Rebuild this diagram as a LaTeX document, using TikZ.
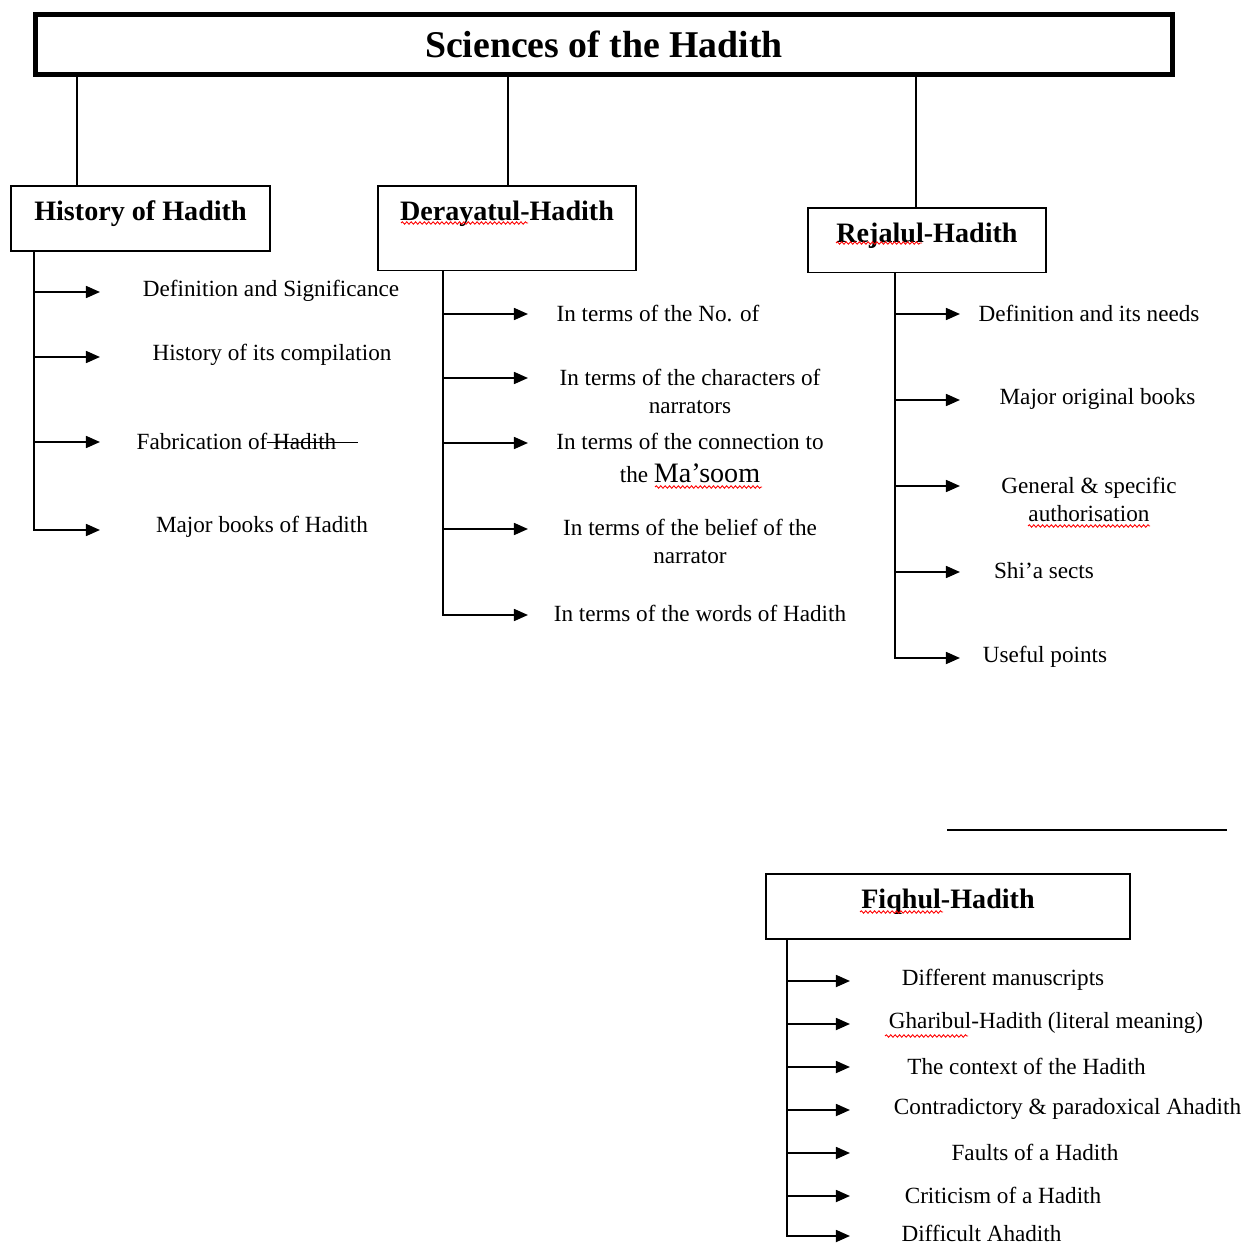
\documentclass[tikz,border=0pt]{standalone}
\usepackage{fontspec}
\setmainfont{Liberation Serif}
\usepackage{tikz}
\usetikzlibrary{positioning}
\usetikzlibrary{arrows.meta, decorations.pathmorphing}

\tikzset{
  titlebox/.style={draw, line width=2.8pt, minimum width=22.74cm, minimum height=1.2cm, inner sep=0pt, font=\fontsize{21.5}{25}\selectfont\bfseries},
  headbox/.style={draw, line width=1pt, inner sep=0pt, anchor=north, text height=19.8pt, font=\fontsize{16}{19}\selectfont\bfseries},
  leaf/.style={inner sep=0pt, align=center, font=\fontsize{13.2}{15.9}\selectfont},
  link/.style={line width=1pt},
  branch/.style={line width=1.1pt, -{Triangle[length=8pt, width=6.8pt]}},
  spell/.style={red, line width=0.5pt, decorate, decoration={snake, amplitude=0.7pt, segment length=2.5pt}},
}

\begin{document}
\begin{tikzpicture}[x=0.02cm, y=-0.02cm]
  \useasboundingbox (0,0) rectangle (1252,1247);

  % title and the four groups
  \node[titlebox] (title) at (604,44.5) {Sciences of the Hadith};
  \node[headbox, minimum width=5.18cm, text depth=17.1pt] (hist) at (140.5,185) {History of Hadith};
  \node[headbox, minimum width=5.16cm, text depth=28.4pt] (dera) at (507,185) {Derayatul-Hadith};
  \node[headbox, minimum width=4.76cm, text depth=17pt] (rej) at (927,207) {Rejalul-Hadith};
  \node[headbox, minimum width=7.28cm, text depth=17.1pt] (fiq) at (948,873) {Fiqhul-Hadith};

  \coordinate (histtop) at (77,185);
  \coordinate (deratop) at (508,185);
  \coordinate (rejtop) at (916,207);
  \draw[link] (title.south -| histtop) -- (histtop);
  \draw[link] (title.south -| deratop) -- (deratop);
  \draw[link] (title.south -| rejtop) -- (rejtop);

  % history of hadith
  \coordinate (h1) at (34,292);
  \coordinate (h2) at (34,357);
  \coordinate (h3) at (34,442);
  \coordinate (h4) at (34,530);
  \coordinate [right=1.32cm of h1] (h1e);
  \coordinate [right=1.32cm of h2] (h2e);
  \coordinate [right=1.32cm of h3] (h3e);
  \coordinate [right=1.32cm of h4] (h4e);
  \draw[branch] (hist.south -| h4) |- (h4e);
  \draw[branch] (h1) -- (h1e);
  \draw[branch] (h2) -- (h2e);
  \draw[branch] (h3) -- (h3e);
  \node[leaf] (h1t) at (271,291) {Definition and Significance};
  \node[leaf] (h2t) at (272,355) {History of its compilation};
  \node[leaf] (h3t) at (236.5,441) {Fabrication of\rlap{\rule[0.27em]{3.9em}{0.7pt}} Hadith};
  \node[leaf] (h4t) at (262,527) {Major books of Hadith};

  % derayatul-hadith
  \coordinate (d1) at (443,314);
  \coordinate (d2) at (443,378);
  \coordinate (d3) at (443,443);
  \coordinate (d4) at (443,529);
  \coordinate (d5) at (443,615);
  \coordinate [right=1.7cm of d1] (d1e);
  \coordinate [right=1.7cm of d2] (d2e);
  \coordinate [right=1.7cm of d3] (d3e);
  \coordinate [right=1.7cm of d4] (d4e);
  \coordinate [right=1.7cm of d5] (d5e);
  \draw[branch] (dera.south -| d5) |- (d5e);
  \draw[branch] (d1) -- (d1e);
  \draw[branch] (d2) -- (d2e);
  \draw[branch] (d3) -- (d3e);
  \draw[branch] (d4) -- (d4e);
  \node[leaf] (d1t) at (658,313) {In terms of the No. of};
  \node[leaf] (d2t) at (690,391) {In terms of the characters of\\narrators};
  \node[leaf] (d3t) at (690,458) {In terms of the connection to\\[3.4pt]the {\fontsize{16}{19}\selectfont Ma’soom}};
  \node[leaf] (d4t) at (690,541) {In terms of the belief of the\\narrator};
  \node[leaf] (d5t) at (700,613) {In terms of the words of Hadith};

  % rejalul-hadith
  \coordinate (r1) at (895,314);
  \coordinate (r2) at (895,400);
  \coordinate (r3) at (895,486);
  \coordinate (r4) at (895,572);
  \coordinate (r5) at (895,658);
  \coordinate [right=1.3cm of r1] (r1e);
  \coordinate [right=1.3cm of r2] (r2e);
  \coordinate [right=1.3cm of r3] (r3e);
  \coordinate [right=1.3cm of r4] (r4e);
  \coordinate [right=1.3cm of r5] (r5e);
  \draw[branch] (rej.south -| r5) |- (r5e);
  \draw[branch] (r1) -- (r1e);
  \draw[branch] (r2) -- (r2e);
  \draw[branch] (r3) -- (r3e);
  \draw[branch] (r4) -- (r4e);
  \node[leaf] (r1t) at (1089,313) {Definition and its needs};
  \node[leaf] (r2t) at (1097.5,399) {Major original books};
  \node[leaf] (r3t) at (1089,499) {General \& specific\\authorisation};
  \node[leaf] (r4t) at (1044,571) {Shi'a sects};
  \node[leaf] (r5t) at (1045,657) {Useful points};

  % stray rule
  \coordinate (rulel) at (947,830);
  \coordinate (ruler) at (1227,830);
  \draw[link] (rulel) -- (ruler);

  % fiqhul-hadith
  \coordinate (f1) at (787,981);
  \coordinate (f2) at (787,1024);
  \coordinate (f3) at (787,1067);
  \coordinate (f4) at (787,1110);
  \coordinate (f5) at (787,1153);
  \coordinate (f6) at (787,1196);
  \coordinate (f7) at (787,1236);
  \coordinate [right=1.26cm of f1] (f1e);
  \coordinate [right=1.26cm of f2] (f2e);
  \coordinate [right=1.26cm of f3] (f3e);
  \coordinate [right=1.26cm of f4] (f4e);
  \coordinate [right=1.26cm of f5] (f5e);
  \coordinate [right=1.26cm of f6] (f6e);
  \coordinate [right=1.26cm of f7] (f7e);
  \draw[branch] (fiq.south -| f7) |- (f7e);
  \draw[branch] (f1) -- (f1e);
  \draw[branch] (f2) -- (f2e);
  \draw[branch] (f3) -- (f3e);
  \draw[branch] (f4) -- (f4e);
  \draw[branch] (f5) -- (f5e);
  \draw[branch] (f6) -- (f6e);
  \node[leaf] (f1t) at (1003,980) {Different manuscripts};
  \node[leaf] (f2t) at (1046,1023) {Gharibul-Hadith (literal meaning)};
  \node[leaf] (f3t) at (1026.5,1066) {The context of the Hadith};
  \node[leaf] (f4t) at (1067.5,1109) {Contradictory \& paradoxical Ahadith};
  \node[leaf] (f5t) at (1035,1152) {Faults of a Hadith};
  \node[leaf] (f6t) at (1003,1195) {Criticism of a Hadith};
  \node[leaf] (f7t) at (981.5,1233) {Difficult Ahadith};

  % spell-check squiggles
  \draw[spell] (401,223) -- (528,223);
  \draw[spell] (836,243) -- (922,243);
  \draw[spell] (860,912) -- (943,912);
  \draw[spell] (655,487) -- (762,487);
  \draw[spell] (1028,526) -- (1150,526);
  \draw[spell] (885,1036) -- (968,1036);
\end{tikzpicture}
\end{document}
